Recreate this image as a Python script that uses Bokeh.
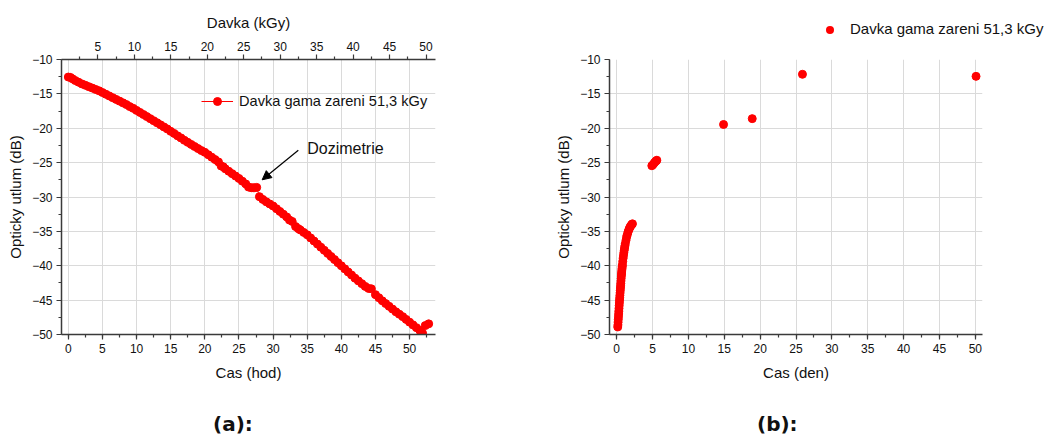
from bokeh.plotting import figure
from bokeh.layouts import row, column
from bokeh.models import (Range1d, LinearAxis, SingleIntervalTicker, FixedTicker,
                          Legend, LegendItem, Label, Arrow, NormalHead, Div)
from bokeh.embed import file_html
from bokeh.resources import INLINE

# (a) attenuation during irradiation, time in hours
cas_hod = [0.0, 0.3, 0.6, 1.0, 1.5, 2.0, 2.5, 3.0, 3.5, 4.0, 4.5, 5.0, 5.5, 6.0, 6.5,
           7.0, 7.5, 8.0, 8.5, 9.0, 9.5, 10.0, 10.5, 11.0, 11.5, 12.0, 12.5, 13.0, 13.5,
           14.0, 14.5, 15.0, 15.5, 16.0, 16.5, 17.0, 17.5, 18.0, 18.5, 19.0, 19.5, 20.0,
           20.5, 21.0, 21.5, 22.0, 22.4, 22.7, 23.0, 23.5, 24.0, 24.5, 25.0, 25.5, 26.0,
           26.4, 26.8, 27.2, 27.6, 28.0, 28.5, 29.0, 29.5, 30.0, 30.5, 31.0, 31.5, 32.0,
           32.4, 32.8, 33.3, 33.7, 34.0, 34.5, 35.0, 35.5, 36.0, 36.5, 37.0, 37.5, 38.0,
           38.5, 39.0, 39.5, 40.0, 40.5, 41.0, 41.5, 42.0, 42.5, 43.0, 43.5, 44.0, 44.4,
           45.0, 45.5, 46.0, 46.5, 47.0, 47.5, 48.0, 48.5, 49.0, 49.5, 50.0, 50.5, 51.0,
           51.5, 51.9, 52.3, 52.8]
utlum_hod = [-12.55, -12.6, -12.8, -13.05, -13.3, -13.55, -13.75, -13.95, -14.15, -14.35,
             -14.55, -14.8, -15.05, -15.3, -15.55, -15.8, -16.05, -16.3, -16.55, -16.85,
             -17.1, -17.4, -17.7, -18.0, -18.3, -18.6, -18.9, -19.2, -19.5, -19.8, -20.1,
             -20.45, -20.75, -21.1, -21.4, -21.75, -22.05, -22.35, -22.65, -22.95, -23.25,
             -23.5, -23.85, -24.2, -24.55, -24.9, -25.5, -25.6, -25.9, -26.25, -26.6,
             -26.95, -27.3, -27.7, -28.1, -28.55, -28.65, -28.65, -28.6, -29.95, -30.35,
             -30.7, -31.0, -31.3, -31.7, -32.1, -32.5, -32.9, -33.35, -33.55, -34.3, -34.6,
             -34.8, -35.15, -35.5, -35.95, -36.4, -36.85, -37.3, -37.75, -38.2, -38.65,
             -39.1, -39.55, -40.0, -40.45, -40.9, -41.35, -41.8, -42.2, -42.6, -43.0,
             -43.3, -43.35, -44.2, -44.65, -45.1, -45.5, -45.9, -46.3, -46.7, -47.05,
             -47.4, -47.8, -48.2, -48.6, -49.0, -49.4, -49.8, -48.7, -48.45]

# (b) recovery after irradiation, time in days
cas_den = [0.15, 0.175, 0.2, 0.225, 0.25, 0.275, 0.3, 0.325, 0.35, 0.375, 0.4, 0.425,
           0.45, 0.475, 0.5, 0.525, 0.55, 0.575, 0.6, 0.625, 0.65, 0.675, 0.7, 0.725,
           0.75, 0.775, 0.8, 0.85, 0.9, 0.95, 1.0, 1.05, 1.1, 1.15, 1.2, 1.3, 1.4, 1.5,
           1.6, 1.7, 1.8, 1.9, 2.0, 2.1, 2.2,
           4.9, 5.05, 5.2, 5.35, 5.5, 5.6,
           14.9, 18.9, 25.9, 50.1]
utlum_den = [-48.9, -48.6, -48.2, -47.8, -47.4, -47.0, -46.6, -46.2, -45.8, -45.4,
             -45.0, -44.65, -44.3, -43.95, -43.6, -43.25, -42.9, -42.55, -42.2, -41.85,
             -41.5, -41.2, -40.9, -40.6, -40.35, -40.1, -39.85, -39.35, -38.9, -38.5,
             -38.1, -37.75, -37.4, -37.1, -36.8, -36.3, -35.8, -35.4, -35.05, -34.75,
             -34.5, -34.3, -34.15, -34.0, -33.9,
             -25.45, -25.3, -25.1, -24.9, -24.75, -24.65,
             -19.45, -18.6, -12.15, -12.45]

davka_ticks = [5, 10, 15, 20, 25, 30, 35, 40, 45, 50]
davka_minor = [2.5, 7.5, 12.5, 17.5, 22.5, 27.5, 32.5, 37.5, 42.5, 47.5]

series_name = "Davka gama zareni 51,3 kGy"
RED = "#ff0000"
FONT = "Liberation Sans"
AXIS_COL = "#3a3a3a"


def style_axis(ax, label, standoff):
    ax.axis_label = label
    ax.axis_label_standoff = standoff
    ax.axis_label_text_font = FONT
    ax.axis_label_text_font_size = "15px"
    ax.axis_label_text_font_style = "normal"
    ax.axis_label_text_color = "#111111"
    ax.major_label_text_font = FONT
    ax.major_label_text_font_size = "12px"
    ax.major_label_text_color = "#111111"
    ax.axis_line_color = AXIS_COL
    ax.axis_line_width = 1.5
    ax.major_tick_line_color = AXIS_COL
    ax.minor_tick_line_color = AXIS_COL
    ax.major_tick_line_width = 1.2
    ax.minor_tick_line_width = 1.2
    ax.major_tick_out = 5
    ax.major_tick_in = 0
    ax.minor_tick_out = 3
    ax.minor_tick_in = 0
    ax.major_label_standoff = 4


def base_figure(width, height, x_end, border_left, border_right, border_top):
    p = figure(width=width, height=height, output_backend="svg", toolbar_location=None,
               x_range=Range1d(-1, x_end), y_range=Range1d(-50, -10),
               min_border_left=border_left, min_border_right=border_right,
               min_border_top=border_top, min_border_bottom=73)
    p.outline_line_color = None
    p.xaxis.ticker = SingleIntervalTicker(interval=5, num_minor_ticks=2)
    p.yaxis.ticker = SingleIntervalTicker(interval=5, num_minor_ticks=2)
    p.xgrid.ticker = SingleIntervalTicker(interval=5)
    p.ygrid.ticker = SingleIntervalTicker(interval=5)
    p.grid.grid_line_color = "#dadada"
    p.grid.grid_line_width = 1
    return p


def caption(text, width, left):
    html = ('<div style="padding-left:%dpx; padding-top:5px; white-space:nowrap; '
            'font-family:\'DejaVu Sans\'; font-weight:bold; font-size:20px; '
            'line-height:24px; color:#111111;">%s</div>' % (left, text))
    return Div(text=html, width=width, height=30, margin=0)


# ---- (a) ----
pa = base_figure(500, 407, 53.8, 61, 65, 59)
style_axis(pa.xaxis[0], "Cas (hod)", 8)
style_axis(pa.yaxis[0], "Opticky utlum (dB)", 5)

pa.extra_x_ranges = {"davka": Range1d(0, 51.3)}
top_axis = LinearAxis(x_range_name="davka",
                      ticker=FixedTicker(ticks=davka_ticks, minor_ticks=davka_minor))
style_axis(top_axis, "Davka (kGy)", 8)
pa.add_layout(top_axis, "above")

line_a = pa.line(cas_hod, utlum_hod, line_color=RED, line_width=1)
dots_a = pa.scatter(cas_hod, utlum_hod, size=8, fill_color=RED, line_color=RED)

leg_a = Legend(items=[LegendItem(label=series_name, renderers=[line_a, dots_a])],
               location=(140, 223), padding=0, margin=0, spacing=0,
               glyph_width=32, glyph_height=20, label_standoff=6,
               label_text_font=FONT, label_text_font_size="14.6px",
               label_text_color="#111111",
               background_fill_alpha=0, border_line_color=None)
pa.add_layout(leg_a, "center")

pa.add_layout(Arrow(end=NormalHead(size=9, fill_color="black", line_color="black"),
                    x_start=33.7, y_start=-23.2, x_end=28.4, y_end=-27.5,
                    line_color="black", line_width=1.2))
pa.add_layout(Label(x=35.0, y=-22.9, text="Dozimetrie", text_font=FONT,
                    text_font_size="16px", text_color="#111111",
                    text_baseline="alphabetic"))
cap_a = caption("(a):", 500, 213)

# ---- (b) ----
pb = base_figure(544, 356, 51, 109, 62, 8)
style_axis(pb.xaxis[0], "Cas (den)", 8)
style_axis(pb.yaxis[0], "Opticky utlum (dB)", 5)
dots_b = pb.scatter(cas_den, utlum_den, size=8, fill_color=RED, line_color=RED)
cap_b = caption("(b):", 544, 257)

# key for plot (b), drawn in the strip above it
key_html = (
    '<div style="padding-left:326px; padding-top:19px; white-space:nowrap; '
    'font-family:\'Liberation Sans\'; font-size:15px; line-height:20px; color:#111111;">'
    '<svg width="8" height="8" style="vertical-align:middle; margin-right:16px;">'
    '<circle cx="4" cy="4" r="4" fill="%s"/></svg>%s</div>' % (RED, series_name)
)
key_b = Div(text=key_html, width=544, height=51, margin=0)

layout = row(column(pa, cap_a, spacing=0),
             column(key_b, pb, cap_b, spacing=0), spacing=0)
open("out.html", "w").write(file_html(layout, INLINE))
